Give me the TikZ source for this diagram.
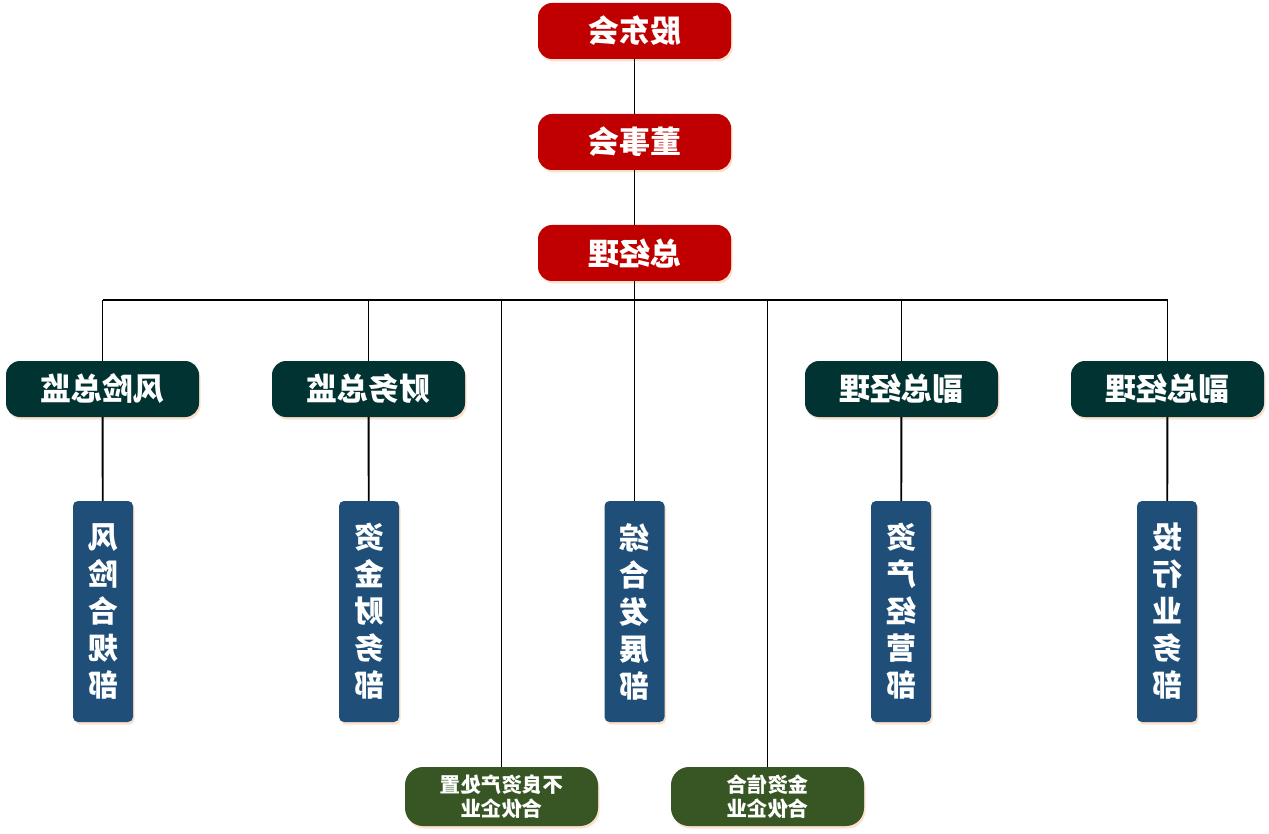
\documentclass[tikz,border=0pt]{standalone}
\usepackage{fontspec}
\usepackage{graphicx}
\newfontfamily\cjk{Noto Sans CJK SC}
\usetikzlibrary{shadows}
\definecolor{topred}{HTML}{C00000}
\definecolor{mgrteal}{HTML}{013332}
\definecolor{deptblue}{HTML}{1F4E79}
\definecolor{fundgreen}{HTML}{375623}
\definecolor{shadowc}{HTML}{F8CBAD}
\newcommand{\mirr}[1]{\reflectbox{#1}}
\tikzset{
  boxbase/.style={rectangle, inner sep=0pt, text=white, align=center,
    drop shadow={shadow xshift=1.5pt, shadow yshift=-2.5pt, fill=shadowc, opacity=0.6}},
  topbox/.style={boxbase, rounded corners=14pt, fill=topred, minimum width=193pt, minimum height=56pt,
    font=\cjk\bfseries\fontsize{31}{33}\selectfont},
  mgrbox/.style={topbox, fill=mgrteal},
  deptbox/.style={boxbase, rounded corners=5pt, fill=deptblue, minimum width=60pt, minimum height=221pt,
    font=\cjk\bfseries\fontsize{30}{37}\selectfont},
  fundbox/.style={boxbase, rounded corners=18pt, fill=fundgreen, minimum width=193pt, minimum height=59pt,
    font=\cjk\bfseries\fontsize{20.5}{24}\selectfont},
  conn/.style={draw=black, line width=1.9pt}
}
\begin{document}
\begin{tikzpicture}[x=1pt,y=-1pt]
\useasboundingbox (0,0) rectangle (1269,834);
% top chain
\node[topbox] (gdh) at (634.5,31) {\mirr{股东会}};
\node[topbox] (dsh) at (634.5,142) {\mirr{董事会}};
\node[topbox] (zjl) at (634.5,253) {\mirr{总经理}};
% managers
\node[mgrbox] (fxzj) at (102.5,389) {\mirr{风险总监}};
\node[mgrbox] (cwzj) at (368.5,389) {\mirr{财务总监}};
\node[mgrbox] (fzjlA) at (901.5,389) {\mirr{副总经理}};
\node[mgrbox] (fzjlB) at (1167.5,389) {\mirr{副总经理}};
% departments
\node[deptbox] (fxhg) at (103,611.5) {\mirr{风}\\\mirr{险}\\\mirr{合}\\\mirr{规}\\\mirr{部}};
\node[deptbox] (zjcw) at (369,611.5) {\mirr{资}\\\mirr{金}\\\mirr{财}\\\mirr{务}\\\mirr{部}};
\node[deptbox] (zhfz) at (634.5,611.5) {\mirr{综}\\\mirr{合}\\\mirr{发}\\\mirr{展}\\\mirr{部}};
\node[deptbox] (zcjy) at (901,611.5) {\mirr{资}\\\mirr{产}\\\mirr{经}\\\mirr{营}\\\mirr{部}};
\node[deptbox] (thyw) at (1167,611.5) {\mirr{投}\\\mirr{行}\\\mirr{业}\\\mirr{务}\\\mirr{部}};
% funds
\node[fundbox] (bldz) at (501.5,796.5) {\mirr{不良资产处置}\\\mirr{合伙企业}};
\node[fundbox] (jzxh) at (767.5,796.5) {\mirr{金资信合}\\\mirr{合伙企业}};
% bus
\coordinate (bus) at (0,300);
\coordinate (busL) at (fxzj |- bus);
\coordinate (busR) at (fzjlB |- bus);
\draw[conn] (busL) -- (busR);
\draw[conn] (gdh) -- (dsh);
\draw[conn] (dsh) -- (zjl);
\draw[conn] (zjl) -- (zhfz);
\draw[conn] (fxzj |- bus) -- (fxzj);
\draw[conn] (cwzj |- bus) -- (cwzj);
\draw[conn] (fzjlA |- bus) -- (fzjlA);
\draw[conn] (fzjlB |- bus) -- (fzjlB);
\draw[conn] (bldz |- bus) -- (bldz);
\draw[conn] (jzxh |- bus) -- (jzxh);
\draw[conn] (fxzj) -- (fxhg);
\draw[conn] (cwzj) -- (zjcw);
\draw[conn] (fzjlA) -- (zcjy);
\draw[conn] (fzjlB) -- (thyw);
\end{tikzpicture}
\end{document}
